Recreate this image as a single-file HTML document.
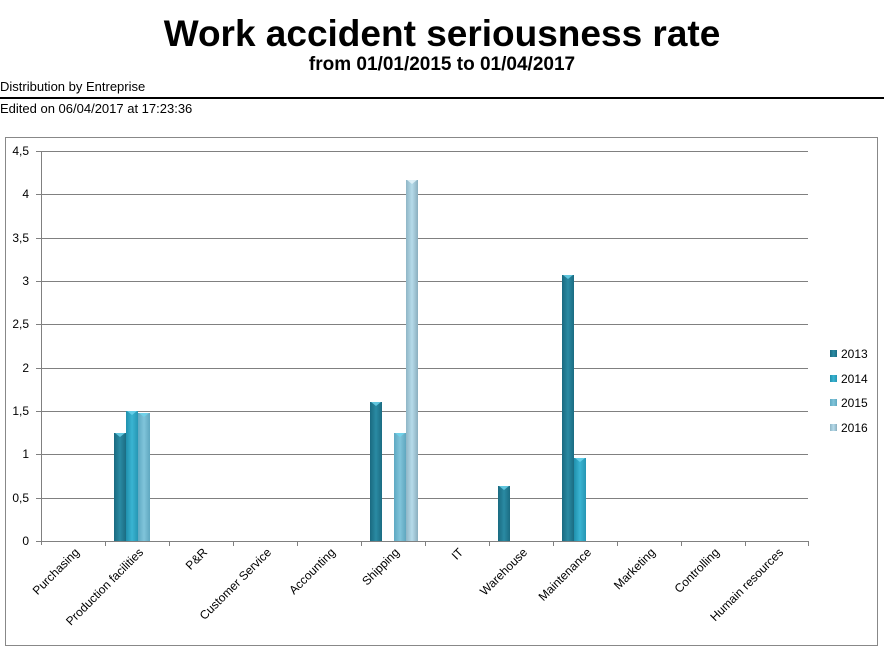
<!DOCTYPE html>
<html><head><meta charset="utf-8"><style>
body{margin:0;width:884px;height:651px;background:#fff;font-family:"Liberation Sans",sans-serif;overflow:hidden;position:relative}
.t{position:absolute;left:0;width:884px;text-align:center;font-weight:bold;color:#000}
</style></head><body>
<div class="t" style="top:13px;font-size:37px;line-height:42px">Work accident seriousness rate</div>
<div class="t" style="top:54px;font-size:19px;line-height:21px">from 01/01/2015 to 01/04/2017</div>
<div style="position:absolute;left:0;top:79px;font-size:13px">Distribution by Entreprise</div>
<div style="position:absolute;left:0;top:97px;width:884px;height:2px;background:#000"></div>
<div style="position:absolute;left:0;top:101px;font-size:13px">Edited on 06/04/2017 at 17:23:36</div>
<svg style="position:absolute;left:0;top:0" width="884" height="651">
<defs>
<linearGradient id="g1"><stop offset="0" stop-color="#1a6a80"/><stop offset=".5" stop-color="#2a8aa3"/><stop offset="1" stop-color="#1b6c82"/></linearGradient>
<linearGradient id="g2"><stop offset="0" stop-color="#2090ad"/><stop offset=".5" stop-color="#3ab4d2"/><stop offset="1" stop-color="#2696b3"/></linearGradient>
<linearGradient id="g3"><stop offset="0" stop-color="#5ea9c2"/><stop offset=".5" stop-color="#80c4da"/><stop offset="1" stop-color="#5fa7bf"/></linearGradient>
<linearGradient id="g4"><stop offset="0" stop-color="#8fb6c6"/><stop offset=".5" stop-color="#b6dbea"/><stop offset="1" stop-color="#8aaebe"/></linearGradient>
</defs>
<rect x="5.5" y="137.5" width="872" height="508" fill="none" stroke="#888"/>
<g stroke="#808080" stroke-width="1">
<line x1="41" y1="151.5" x2="808" y2="151.5"/><line x1="41" y1="194.5" x2="808" y2="194.5"/>
<line x1="41" y1="238.5" x2="808" y2="238.5"/><line x1="41" y1="281.5" x2="808" y2="281.5"/>
<line x1="41" y1="324.5" x2="808" y2="324.5"/><line x1="41" y1="368.5" x2="808" y2="368.5"/>
<line x1="41" y1="411.5" x2="808" y2="411.5"/><line x1="41" y1="454.5" x2="808" y2="454.5"/>
<line x1="41" y1="498.5" x2="808" y2="498.5"/><line x1="41" y1="541.5" x2="808" y2="541.5"/>
<line x1="41.5" y1="151" x2="41.5" y2="545"/>
<line x1="36" y1="151.5" x2="41" y2="151.5"/><line x1="36" y1="194.5" x2="41" y2="194.5"/><line x1="36" y1="238.5" x2="41" y2="238.5"/><line x1="36" y1="281.5" x2="41" y2="281.5"/><line x1="36" y1="324.5" x2="41" y2="324.5"/><line x1="36" y1="368.5" x2="41" y2="368.5"/><line x1="36" y1="411.5" x2="41" y2="411.5"/><line x1="36" y1="454.5" x2="41" y2="454.5"/><line x1="36" y1="498.5" x2="41" y2="498.5"/><line x1="36" y1="541.5" x2="41" y2="541.5"/>
<line x1="105.5" y1="541" x2="105.5" y2="546"/><line x1="169.5" y1="541" x2="169.5" y2="546"/><line x1="233.5" y1="541" x2="233.5" y2="546"/><line x1="297.5" y1="541" x2="297.5" y2="546"/><line x1="361.5" y1="541" x2="361.5" y2="546"/><line x1="425.5" y1="541" x2="425.5" y2="546"/><line x1="489.5" y1="541" x2="489.5" y2="546"/><line x1="553.5" y1="541" x2="553.5" y2="546"/><line x1="617.5" y1="541" x2="617.5" y2="546"/><line x1="681.5" y1="541" x2="681.5" y2="546"/><line x1="745.5" y1="541" x2="745.5" y2="546"/><line x1="808.5" y1="541" x2="808.5" y2="546"/>
</g>
<g font-size="12" text-anchor="end" fill="#000">
<text x="29" y="155">4,5</text><text x="29" y="198">4</text><text x="29" y="242">3,5</text><text x="29" y="285">3</text><text x="29" y="328">2,5</text><text x="29" y="372">2</text><text x="29" y="415">1,5</text><text x="29" y="458">1</text><text x="29" y="502">0,5</text><text x="29" y="545">0</text>
</g>
<g font-size="12" text-anchor="end" fill="#000">
<text transform="translate(80,553) rotate(-45)">Purchasing</text>
<text transform="translate(144,553) rotate(-45)">Production facilities</text>
<text transform="translate(208,553) rotate(-45)">P&amp;R</text>
<text transform="translate(272,553) rotate(-45)">Customer Service</text>
<text transform="translate(336,553) rotate(-45)">Accounting</text>
<text transform="translate(400,553) rotate(-45)">Shipping</text>
<text transform="translate(464,553) rotate(-45)">IT</text>
<text transform="translate(528,553) rotate(-45)">Warehouse</text>
<text transform="translate(592,553) rotate(-45)">Maintenance</text>
<text transform="translate(656,553) rotate(-45)">Marketing</text>
<text transform="translate(720,553) rotate(-45)">Controlling</text>
<text transform="translate(784,553) rotate(-45)">Humain resources</text>
</g>
<g>
<rect x="114" y="433" width="12" height="108" fill="url(#g1)"/>
<rect x="126" y="411" width="12" height="130" fill="url(#g2)"/>
<rect x="138" y="413" width="12" height="128" fill="url(#g3)"/>
<rect x="370" y="402" width="12" height="139" fill="url(#g1)"/>
<rect x="394" y="433" width="12" height="108" fill="url(#g3)"/>
<rect x="406" y="180" width="12" height="361" fill="url(#g4)"/>
<rect x="498" y="486" width="12" height="55" fill="url(#g1)"/>
<rect x="562" y="275" width="12" height="266" fill="url(#g1)"/>
<rect x="574" y="458" width="12" height="83" fill="url(#g2)"/>
</g>
<g fill="#6fd6ee" opacity=".8">
<polygon points="115,433 125,433 120,437"/><polygon points="127,411 137,411 132,415"/><polygon points="139,413 149,413 144,417"/>
<polygon points="371,402 381,402 376,406"/><polygon points="395,433 405,433 400,437"/><polygon points="407,180 417,180 412,184" fill="#e8f6fb"/>
<polygon points="499,486 509,486 504,490"/><polygon points="563,275 573,275 568,279"/><polygon points="575,458 585,458 580,462"/>
</g>
<rect x="830" y="350" width="7" height="7" fill="url(#g1)"/>
<rect x="830" y="375" width="7" height="7" fill="url(#g2)"/>
<rect x="830" y="399" width="7" height="7" fill="url(#g3)"/>
<rect x="830" y="424" width="7" height="7" fill="url(#g4)"/>
<g font-size="12" fill="#000">
<text x="841" y="358">2013</text><text x="841" y="383">2014</text><text x="841" y="407">2015</text><text x="841" y="432">2016</text>
</g>
</svg>
</body></html>
